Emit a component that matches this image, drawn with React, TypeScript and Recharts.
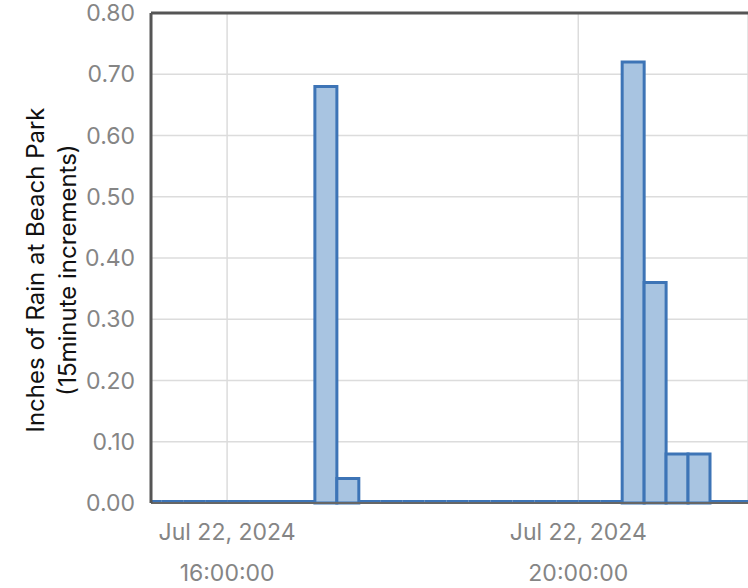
import React from "react";
import { BarChart, Bar, XAxis, YAxis, CartesianGrid, ReferenceLine } from "recharts";

// 15-minute interval start times (Jul 22, 2024)
const intervalStarts = [
  "15:00", "15:15", "15:30", "15:45",
  "16:00", "16:15", "16:30", "16:45",
  "17:00", "17:15", "17:30", "17:45",
  "18:00", "18:15", "18:30", "18:45",
  "19:00", "19:15", "19:30", "19:45",
  "20:00", "20:15", "20:30", "20:45",
  "21:00", "21:15", "21:30", "21:45",
];

// Inches of rain in each 15-minute interval
const rainInches = [
  0, 0, 0, 0,
  0, 0, 0, 0,
  0.68, 0.04, 0, 0,
  0, 0, 0, 0,
  0, 0, 0, 0,
  0, 0, 0.72, 0.36,
  0.08, 0.08, 0, 0,
];

const xTickTimes = ["16:00", "20:00"];
const xTickDate = "Jul 22, 2024";
const yTicks = [0, 0.1, 0.2, 0.3, 0.4, 0.5, 0.6, 0.7, 0.8];
const xDomainTimes = ["15:08", "21:56"];

const toMin = (s: string) => {
  const [h, m] = s.split(":").map(Number);
  return h * 60 + m;
};

const data = intervalStarts.map((t, i) => ({
  t: toMin(t) + 7.5, // center of 15-minute interval
  rain: rainInches[i],
}));

const FONT = "Inter, Roboto, 'Noto Sans', sans-serif";
const FILL = "#a8c4e1";
const STROKE = "#3d74b6";
const TICK_COLOR = "#858585";

const BarShape = (props: any) => {
  const { x, y, width, height } = props;
  if (!height || height <= 0) {
    return (
      <line x1={x} x2={x + width} y1={y - 1.5} y2={y - 1.5} stroke={STROKE} strokeWidth={3} />
    );
  }
  return (
    <rect x={x} y={y} width={width} height={height} fill={FILL} stroke={STROKE} strokeWidth={3} />
  );
};

const XTick = (props: any) => {
  const { x, y, payload } = props;
  const mins = payload.value as number;
  const hh = String(Math.floor(mins / 60)).padStart(2, "0");
  const mm = String(Math.round(mins % 60)).padStart(2, "0");
  return (
    <g>
      <text x={x} y={y + 35} textAnchor="middle" fill={TICK_COLOR} fontSize={23} fontFamily={FONT}>
        {xTickDate}
      </text>
      <text x={x} y={y + 76} textAnchor="middle" fill={TICK_COLOR} fontSize={23} fontFamily={FONT}>
        {`${hh}:${mm}:00`}
      </text>
    </g>
  );
};

const YLabel = (props: any) => {
  const { viewBox } = props;
  const cy = viewBox.y + viewBox.height / 2 + 12;
  const x1 = 35;
  const x2 = 67;
  return (
    <g>
      <text
        x={x1}
        y={cy}
        transform={`rotate(-90, ${x1}, ${cy})`}
        textAnchor="middle"
        dominantBaseline="central"
        fill="#111"
        fontSize={24}
        fontFamily={FONT}
      >
        Inches of Rain at Beach Park
      </text>
      <text
        x={x2}
        y={cy}
        transform={`rotate(-90, ${x2}, ${cy})`}
        textAnchor="middle"
        dominantBaseline="central"
        fill="#111"
        fontSize={24}
        fontFamily={FONT}
      >
        (15minute increments)
      </text>
    </g>
  );
};

export default function App() {
  return (
    <div style={{ position: "absolute", left: 0, top: 0, fontFamily: FONT, background: "#fff" }}>
      <BarChart
        width={748}
        height={588}
        data={data}
        margin={{ top: 13, right: 0, bottom: 0, left: 0 }}
        barCategoryGap={0}
        barGap={0}
      >
        <CartesianGrid stroke="#dcdcdc" strokeWidth={1.5} />
        <Bar
          dataKey="rain"
          isAnimationActive={false}
          shape={<BarShape />}
        />
        <XAxis
          dataKey="t"
          type="number"
          scale="linear"
          domain={xDomainTimes.map(toMin)}
          allowDataOverflow
          ticks={xTickTimes.map(toMin)}
          interval={0}
          tick={<XTick />}
          tickLine={false}
          tickSize={0}
          height={85}
          axisLine={{ stroke: "#666", strokeWidth: 2 }}
        />
        <YAxis
          type="number"
          domain={[0, 0.8]}
          ticks={yTicks}
          interval={0}
          width={151}
          tickFormatter={(v: number) => v.toFixed(2)}
          tick={{ fill: TICK_COLOR, fontSize: 23, fontFamily: FONT }}
          tickLine={false}
          tickSize={0}
          tickMargin={16}
          axisLine={{ stroke: "#555", strokeWidth: 3 }}
          label={<YLabel />}
        />
        <ReferenceLine y={0.8} stroke="#555" strokeWidth={3} />
      </BarChart>
    </div>
  );
}
